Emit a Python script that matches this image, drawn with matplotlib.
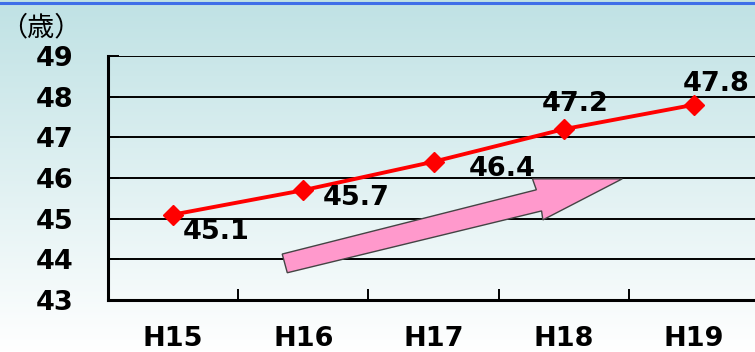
import numpy as np
import matplotlib
matplotlib.use("Agg")
import matplotlib.pyplot as plt
from matplotlib.patches import Polygon
from matplotlib.lines import Line2D

# Data
years = ["H15", "H16", "H17", "H18", "H19"]
ages = [45.1, 45.7, 46.4, 47.2, 47.8]
yticks = [43, 44, 45, 46, 47, 48, 49]
# label offsets (pixels) from each point
label_dx = [43, 53, 69, 11, 22]
label_dy = [-17, -8, -7, 25, 21]

NUM_FONT = "DejaVu Sans"
FS = 19.5

fig = plt.figure(figsize=(7.55, 3.52), dpi=100)

# background gradient: pale teal at top fading to white
bg = fig.add_axes([0, 0, 1, 1], zorder=-10)
top = np.array([0.75, 0.885, 0.895])
bot = np.array([1.0, 1.0, 1.0])
t = np.linspace(0, 1, 256)[:, None]
grad = top * (1 - t) + bot * t
grad = np.repeat(grad[:, None, :], 2, axis=1)
bg.imshow(grad, aspect="auto", extent=[0, 1, 0, 1], origin="upper")
bg.set_xlim(0, 1)
bg.set_ylim(0, 1)
bg.axis("off")

# thin blue rule at the top edge
fig.add_artist(Line2D([0, 1], [0.991, 0.991], transform=fig.transFigure,
                      color="#3f6fe8", lw=2.2))

ax = fig.add_axes([108 / 755, 1 - 300 / 352, (759 - 108) / 755, (300 - 56) / 352])
ax.patch.set_alpha(0)

x = np.arange(len(years))
ax.set_xlim(-0.5, len(years) - 0.5)
ax.set_ylim(43, 49)

for yv in yticks[1:]:
    ax.axhline(yv, color="black", lw=1.4, zorder=1)

ax.plot(x, ages, color="#ff0000", lw=2.8, marker="D", markersize=10.5,
        markerfacecolor="#ff0000", markeredgecolor="#ff0000", zorder=3)

for xi, v, dx, dy in zip(x, ages, label_dx, label_dy):
    ax.annotate(f"{v:.1f}", (xi, v), xytext=(dx, dy), textcoords="offset pixels",
                ha="center", va="center", fontsize=FS, fontweight="bold",
                family=NUM_FONT, color="black", zorder=4)

# trend arrow (in data coordinates)
arrow_pts = [(0.838, 44.13), (2.79, 45.71), (2.76, 45.98), (3.45, 45.98),
             (2.84, 44.97), (2.83, 45.19), (0.877, 43.67)]
ax.add_patch(Polygon(arrow_pts, closed=True, facecolor="#ff99cc",
                     edgecolor="#444444", lw=1.0, zorder=5))

for s in ["top", "right"]:
    ax.spines[s].set_visible(False)
for s in ["left", "bottom"]:
    ax.spines[s].set_linewidth(2.2)
    ax.spines[s].set_color("black")

ax.set_yticks(yticks)
ax.set_yticklabels([str(v) for v in yticks], fontsize=FS, fontweight="bold",
                   family=NUM_FONT)
ax.tick_params(axis="y", direction="in", length=8, width=1.4, pad=25)

ax.set_xticks(x)
ax.set_xticklabels(years, fontsize=FS, fontweight="bold", family=NUM_FONT)
ax.set_xticks(np.arange(0.5, len(years) - 0.5, 1), minor=True)
ax.tick_params(axis="x", which="major", length=0, pad=19)
ax.tick_params(axis="x", which="minor", direction="in", length=8, width=1.4)

fig.text(0 / 755, 1 - 28 / 352, "（歳）", fontsize=19.5,
         family=["Noto Sans CJK JP", "DejaVu Sans"], ha="left", va="center")

fig.savefig("out.png", dpi=100)
